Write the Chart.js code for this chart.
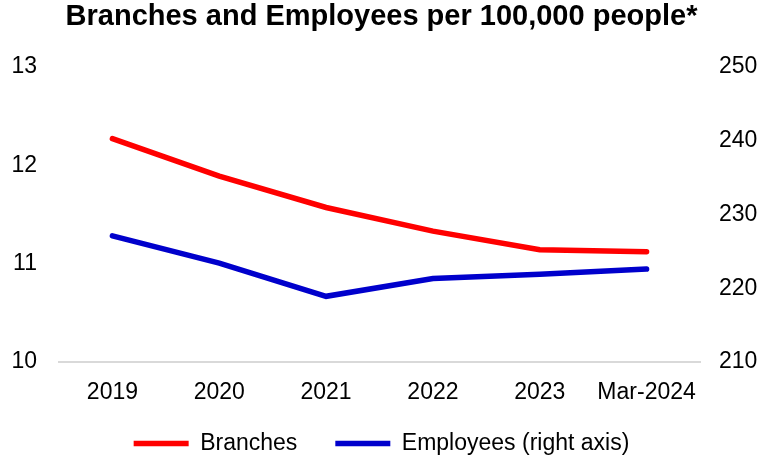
<!DOCTYPE html>
<html lang="en">
<head>
    <meta charset="UTF-8">
    <title>Branches and Employees per 100,000 people</title>
    <script src="https://cdn.jsdelivr.net/npm/chart.js@4.4.1/dist/chart.umd.min.js"></script>
    <style>
        body {
            margin: 0;
            background: #fff;
        }
        #wrap {
            width: 763px;
            height: 459px;
        }
    </style>
</head>
<body>
    <div id="wrap">
        <canvas id="chart"></canvas>
    </div>

    <script>
        const labels = ['2019', '2020', '2021', '2022', '2023', 'Mar-2024'];
        const branches = [12.27, 11.89, 11.57, 11.33, 11.14, 11.12];
        const employees = [227.1, 223.4, 218.9, 221.3, 221.9, 222.6];

        const font = "'Liberation Sans', Arial, sans-serif";

        // x axis is kept short so the legend sits close, then its
        // clip box is stretched again so the year labels are not cut
        const unclipLabels = {
            id: 'unclipLabels',
            afterLayout(chart) {
                chart.scales.x.bottom = chart.scales.x.top + 50;
            }
        };

        new Chart(document.getElementById('chart'), {
            type: 'line',
            data: {
                labels: labels,
                datasets: [
                    {
                        label: 'Branches',
                        data: branches,
                        yAxisID: 'y',
                        borderColor: '#ff0000',
                        backgroundColor: '#ff0000',
                        borderWidth: 5.5,
                        borderCapStyle: 'round',
                        pointRadius: 0,
                        tension: 0
                    },
                    {
                        label: 'Employees (right axis)',
                        data: employees,
                        yAxisID: 'y1',
                        borderColor: '#0000cc',
                        backgroundColor: '#0000cc',
                        borderWidth: 5.5,
                        borderCapStyle: 'round',
                        pointRadius: 0,
                        tension: 0
                    }
                ]
            },
            plugins: [unclipLabels],
            options: {
                responsive: true,
                maintainAspectRatio: false,
                animation: false,
                layout: {
                    padding: { left: 0, right: 0, top: 0, bottom: -6 }
                },
                plugins: {
                    title: {
                        display: true,
                        text: 'Branches and Employees per 100,000 people*',
                        color: '#000',
                        font: { family: font, size: 29, weight: 'bold' },
                        padding: { top: 0, bottom: 32 }
                    },
                    legend: {
                        position: 'bottom',
                        labels: {
                            usePointStyle: true,
                            pointStyle: 'line',
                            pointStyleWidth: 55,
                            color: '#000',
                            font: { family: font, size: 23, lineHeight: 1 },
                            padding: 38
                        }
                    },
                    tooltip: { enabled: false }
                },
                scales: {
                    x: {
                        offset: true,
                        grid: { display: false, drawTicks: false },
                        border: { display: true, color: '#d9d9d9', width: 2 },
                        ticks: {
                            color: '#000',
                            font: { family: font, size: 23 },
                            padding: 17,
                            maxRotation: 0
                        },
                        afterFit: (scale) => { scale.height = 32; }
                    },
                    y: {
                        position: 'left',
                        min: 10,
                        max: 13,
                        grid: { display: false, drawTicks: false },
                        border: { display: false },
                        ticks: {
                            stepSize: 1,
                            color: '#000',
                            font: { family: font, size: 23 },
                            padding: 22
                        },
                        afterFit: (scale) => { scale.width = 59; }
                    },
                    y1: {
                        position: 'right',
                        min: 210,
                        max: 250,
                        grid: { display: false, drawTicks: false },
                        border: { display: false },
                        ticks: {
                            stepSize: 10,
                            color: '#000',
                            font: { family: font, size: 23 },
                            padding: 19
                        },
                        afterFit: (scale) => { scale.width = 63; }
                    }
                }
            }
        });
    </script>
</body>
</html>
